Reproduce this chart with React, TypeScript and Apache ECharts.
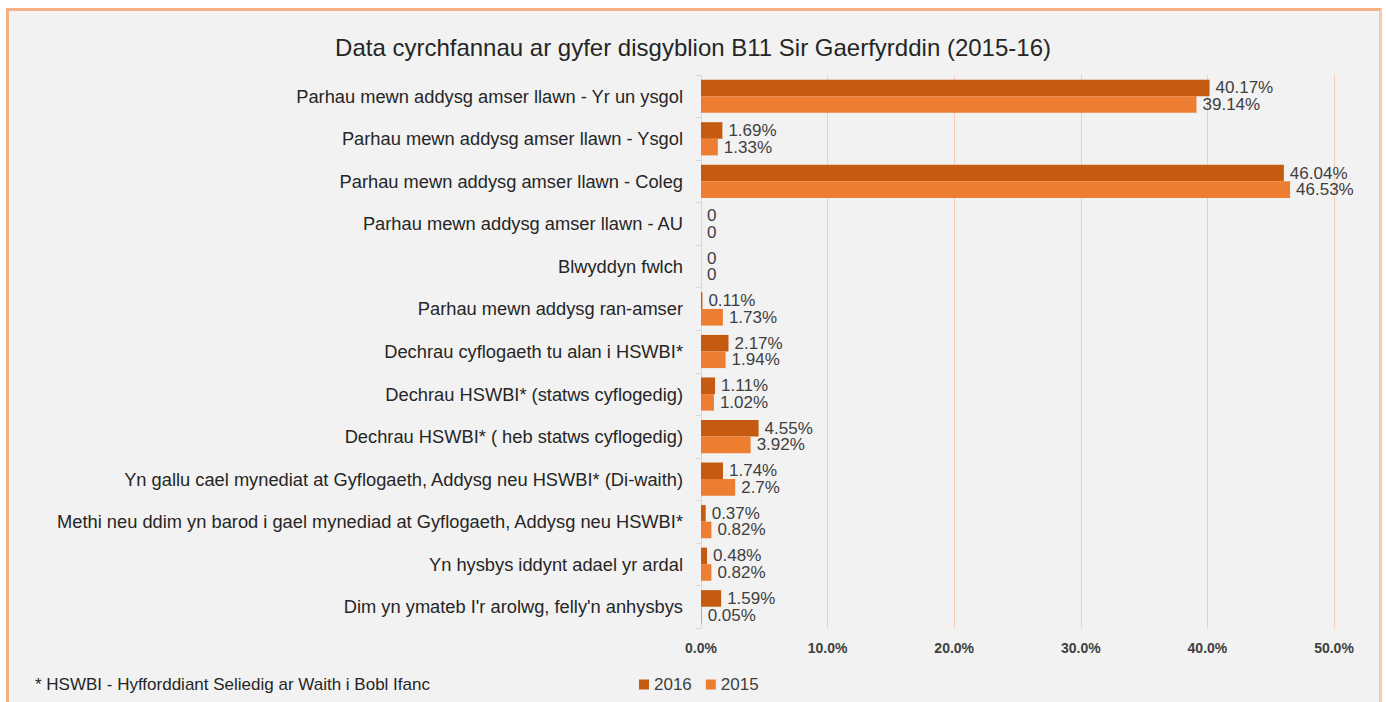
import React, { useEffect, useRef } from "react";
import * as echarts from "echarts";

const categories = [
  "Parhau mewn addysg amser llawn - Yr un ysgol",
  "Parhau mewn addysg amser llawn - Ysgol",
  "Parhau mewn addysg amser llawn - Coleg",
  "Parhau mewn addysg amser llawn - AU",
  "Blwyddyn fwlch",
  "Parhau mewn addysg ran-amser",
  "Dechrau cyflogaeth tu alan i HSWBI*",
  "Dechrau HSWBI* (statws cyflogedig)",
  "Dechrau HSWBI* ( heb statws cyflogedig)",
  "Yn gallu cael mynediat at Gyflogaeth, Addysg neu HSWBI* (Di-waith)",
  "Methi neu ddim yn barod i gael mynediad at Gyflogaeth, Addysg neu HSWBI*",
  "Yn hysbys iddynt adael yr ardal",
  "Dim yn ymateb I'r arolwg, felly'n anhysbys",
];

const values2016 = [40.17, 1.69, 46.04, 0, 0, 0.11, 2.17, 1.11, 4.55, 1.74, 0.37, 0.48, 1.59];
const values2015 = [39.14, 1.33, 46.53, 0, 0, 1.73, 1.94, 1.02, 3.92, 2.7, 0.82, 0.82, 0.05];

const titleText = "Data cyrchfannau ar gyfer disgyblion B11 Sir Gaerfyrddin (2015-16)";
const footnoteText = "* HSWBI - Hyfforddiant Seliedig ar Waith i Bobl Ifanc";

const FONT = "'Liberation Sans', Arial, sans-serif";

export default function App() {
  const ref = useRef<HTMLDivElement>(null);

  useEffect(() => {
    if (!ref.current) return;
    const chart = echarts.init(ref.current, null, { renderer: "svg" });
    const labelFmt = (p: any) => (p.value === 0 ? "0" : `${p.value}%`);
    chart.setOption({
      animation: false,
      backgroundColor: "transparent",
      textStyle: { fontFamily: FONT },
      title: {
        text: titleText,
        left: "center",
        top: 30,
        textStyle: { fontFamily: FONT, fontSize: 24, fontWeight: "normal", color: "#262626" },
      },
      legend: {
        data: ["2016", "2015"],
        left: 634,
        top: 671,
        itemWidth: 10,
        itemHeight: 10,
        itemGap: 14,
        icon: "rect",
        textStyle: { fontFamily: FONT, fontSize: 17, color: "#404040" },
      },
      grid: { left: 701, right: 52, top: 75, bottom: 74, containLabel: false },
      xAxis: {
        type: "value",
        min: 0,
        max: 50,
        interval: 10,
        axisLine: { show: false },
        axisTick: { show: false },
        splitLine: { show: true, lineStyle: { color: "#f5cdb4", width: 1 } },
        axisLabel: {
          margin: 13,
          fontFamily: FONT,
          fontSize: 14,
          fontWeight: "bold",
          color: "#404040",
          formatter: (v: number) => `${v.toFixed(1)}%`,
        },
      },
      yAxis: {
        type: "category",
        inverse: true,
        data: categories,
        axisLine: { show: true, lineStyle: { color: "#d9d9d9" } },
        axisTick: { show: true, length: 5, lineStyle: { color: "#d9d9d9" } },
        axisLabel: { margin: 18, fontFamily: FONT, fontSize: 18.3, color: "#262626" },
        splitLine: { show: false },
      },
      series: [
        {
          name: "2016",
          type: "bar",
          data: values2016,
          barGap: "0%",
          barCategoryGap: "22%",
          itemStyle: { color: "#c55a11" },
          label: { show: true, position: "right", distance: 6, formatter: labelFmt, fontFamily: FONT, fontSize: 17, color: "#404040" },
        },
        {
          name: "2015",
          type: "bar",
          data: values2015,
          barGap: "0%",
          barCategoryGap: "22%",
          itemStyle: { color: "#ed7d31" },
          label: { show: true, position: "right", distance: 6, formatter: labelFmt, fontFamily: FONT, fontSize: 17, color: "#404040" },
        },
      ],
      graphic: [
        {
          type: "text",
          left: 35,
          top: 676,
          style: { text: footnoteText, font: `17px ${FONT}`, fill: "#262626" },
        },
      ],
    });
    return () => chart.dispose();
  }, []);

  return (
    <div style={{ position: "absolute", left: 0, top: 0, width: 1386, height: 702, background: "#ffffff", overflow: "hidden" }}>
      <div
        style={{
          position: "absolute",
          left: 6,
          top: 8,
          width: 1376,
          height: 720,
          boxSizing: "border-box",
          background: "#f2f2f2",
          borderTop: "3px solid #f4b183",
          borderLeft: "3px solid #f4b183",
          borderRight: "3px solid #f8cbad",
        }}
      />
      <div ref={ref} style={{ position: "absolute", left: 0, top: 0, width: 1386, height: 702 }} />
    </div>
  );
}
